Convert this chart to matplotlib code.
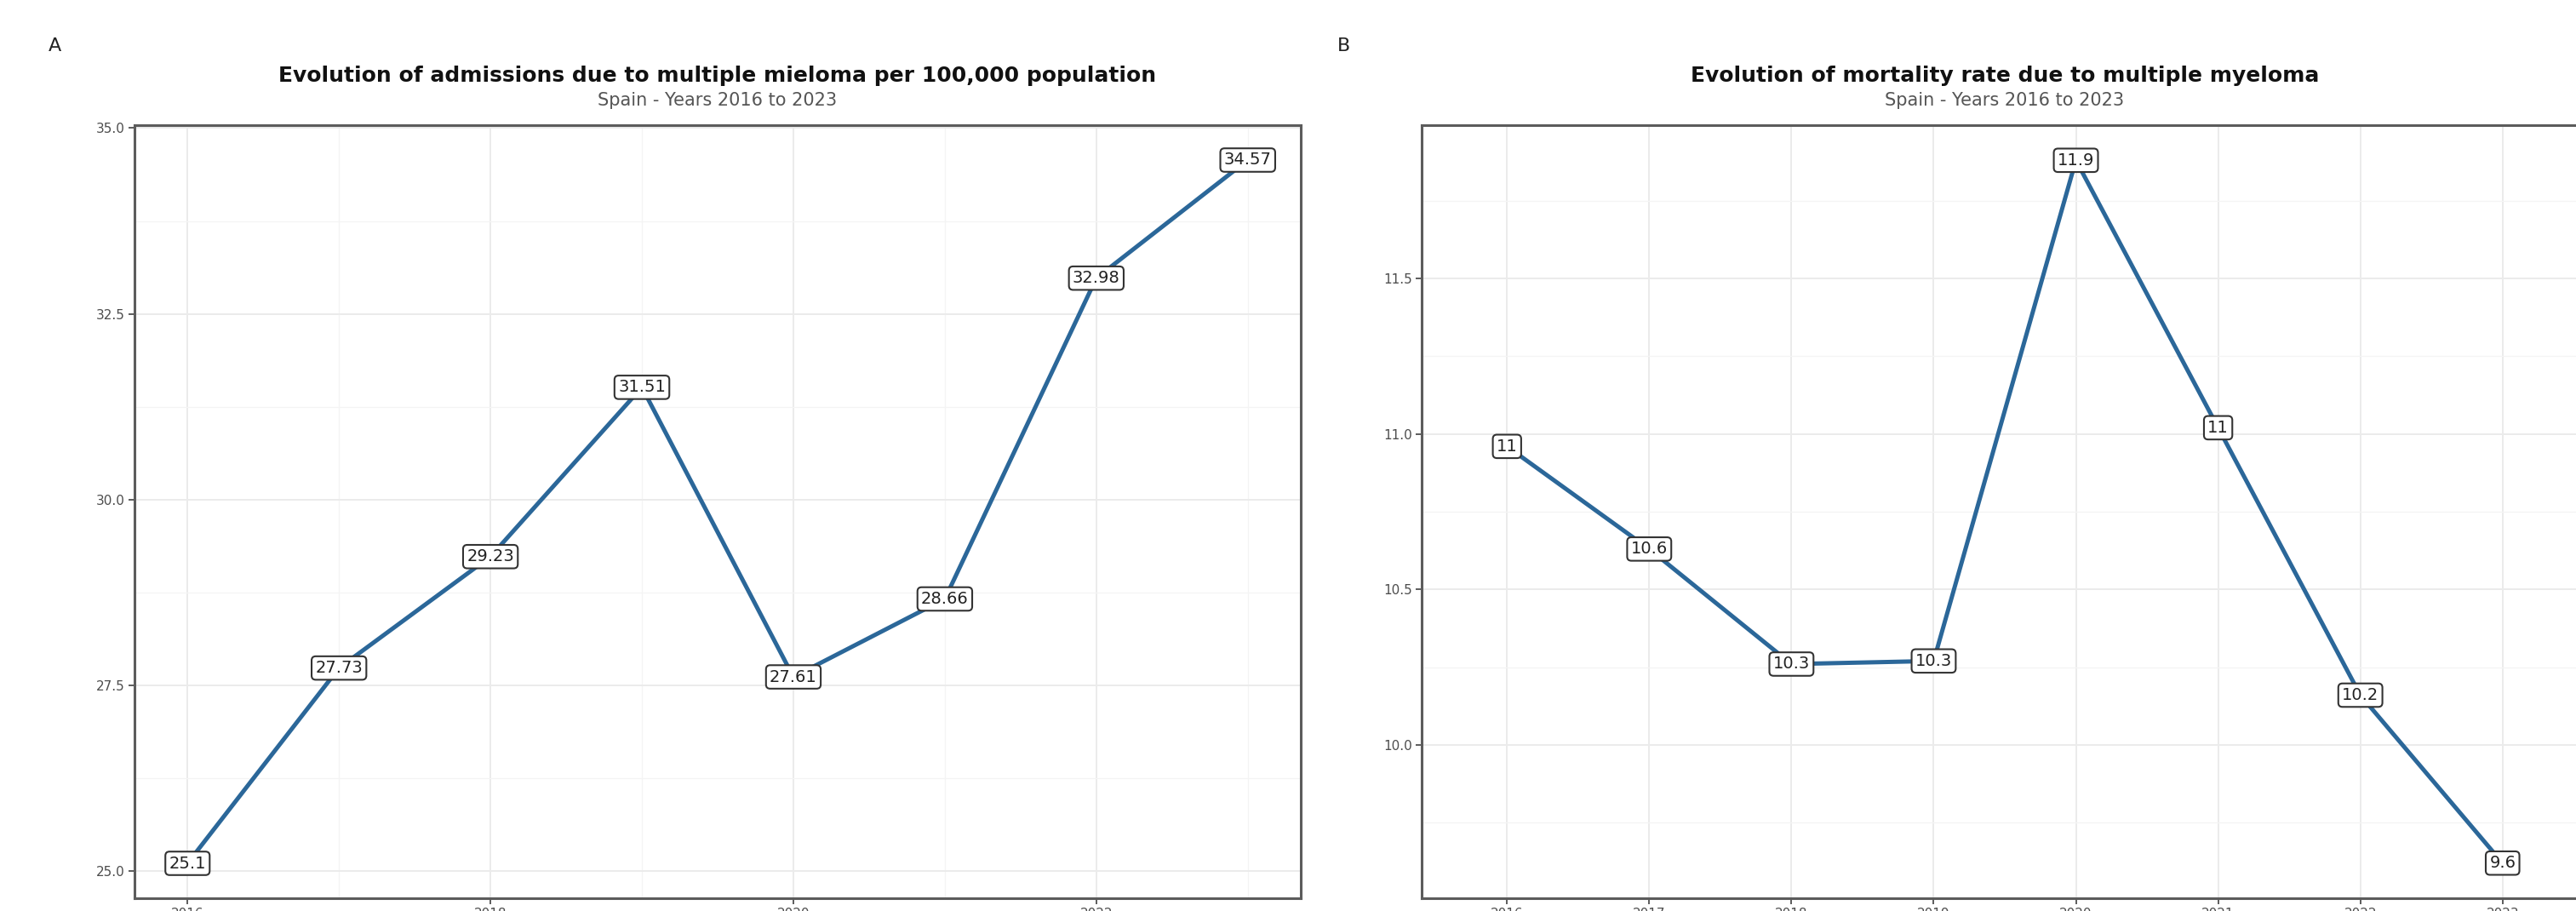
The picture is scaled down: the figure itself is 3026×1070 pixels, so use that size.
import numpy as np
import matplotlib
matplotlib.use("Agg")
import matplotlib.pyplot as plt
from matplotlib.ticker import MultipleLocator

years = [2016, 2017, 2018, 2019, 2020, 2021, 2022, 2023]
admissions = [25.10, 27.73, 29.23, 31.51, 27.61, 28.66, 32.98, 34.57]
mortality = [10.96, 10.63, 10.26, 10.27, 11.88, 11.02, 10.16, 9.62]

title_a = "Evolution of admissions due to multiple mieloma per 100,000 population"
title_b = "Evolution of mortality rate due to multiple myeloma"
subtitle = "Spain - Years 2016 to 2023"

LINE = "#2B6799"
GRID = "#EBEBEB"
SPINE = "#5C5C5C"
TICK = "#4D4D4D"

W, H = 3026, 1070
fig = plt.figure(figsize=(W / 100, H / 100), dpi=100)


def px_axes(left, right, top, bottom):
    return fig.add_axes([left / W, 1 - bottom / H, (right - left) / W, (bottom - top) / H])


def style(ax):
    for s in ax.spines.values():
        s.set_color(SPINE)
        s.set_linewidth(2.2)
    ax.grid(which="major", color=GRID, lw=1.4, zorder=0)
    ax.grid(which="minor", color="#F4F4F4", lw=0.9, zorder=0)
    ax.tick_params(which="major", length=5, width=1.4, color=SPINE,
                   labelsize=11, labelcolor=TICK, pad=3)
    ax.tick_params(which="minor", length=0)
    ax.set_axisbelow(True)


def add_labels(ax, xs, ys, fmt):
    for x, y in zip(xs, ys):
        ax.text(x, y, fmt(y), ha="center", va="center", fontsize=14,
                color="#222222", zorder=4,
                bbox=dict(boxstyle="round,pad=0.22,rounding_size=0.25",
                          fc="white", ec="#333333", lw=1.5))


# Panel A: continuous year axis
ax1 = px_axes(158, 1528, 147, 1055)
ax1.plot(years, admissions, color=LINE, lw=3.6, zorder=3, solid_capstyle="round")
add_labels(ax1, years, admissions, lambda v: f"{v:g}")
ax1.set_xlim(2016 - 0.35, 2023 + 0.35)
ax1.set_ylim(24.63, 35.04)
ax1.xaxis.set_major_locator(MultipleLocator(2))
ax1.xaxis.set_minor_locator(MultipleLocator(1))
ax1.yaxis.set_major_locator(MultipleLocator(2.5))
ax1.yaxis.set_minor_locator(MultipleLocator(1.25))
ax1.yaxis.set_major_formatter(matplotlib.ticker.FormatStrFormatter("%.1f"))
style(ax1)

# Panel B: discrete year axis, cropped at the right edge like the reference
ax2 = px_axes(1670, 3040, 147, 1055)
idx = np.arange(len(years))
ax2.plot(idx, mortality, color=LINE, lw=3.6, zorder=3, solid_capstyle="round")
add_labels(ax2, idx, mortality, lambda v: f"{round(v, 1):g}")
ax2.set_xlim(-0.6, len(years) - 1 + 0.6)
ax2.set_ylim(9.507, 11.993)
ax2.set_xticks(idx)
ax2.set_xticklabels([str(y) for y in years])
ax2.yaxis.set_major_locator(MultipleLocator(0.5))
ax2.yaxis.set_minor_locator(MultipleLocator(0.25))
ax2.yaxis.set_major_formatter(matplotlib.ticker.FormatStrFormatter("%.1f"))
style(ax2)

# titles and panel letters
for ax, t in [(ax1, title_a), (ax2, title_b)]:
    ax.text(0.5, 1 + (147 - 89) / 908, t, transform=ax.transAxes, ha="center",
            va="center", fontsize=18, fontweight="bold", color="#111111")
    ax.text(0.5, 1 + (147 - 118) / 908, subtitle, transform=ax.transAxes,
            ha="center", va="center", fontsize=15, color="#555555")

fig.text(64 / W, 1 - 54 / H, "A", fontsize=16, ha="center", va="center", color="#222222")
fig.text(1578 / W, 1 - 54 / H, "B", fontsize=16, ha="center", va="center", color="#222222")

fig.savefig("out.png", dpi=100)
